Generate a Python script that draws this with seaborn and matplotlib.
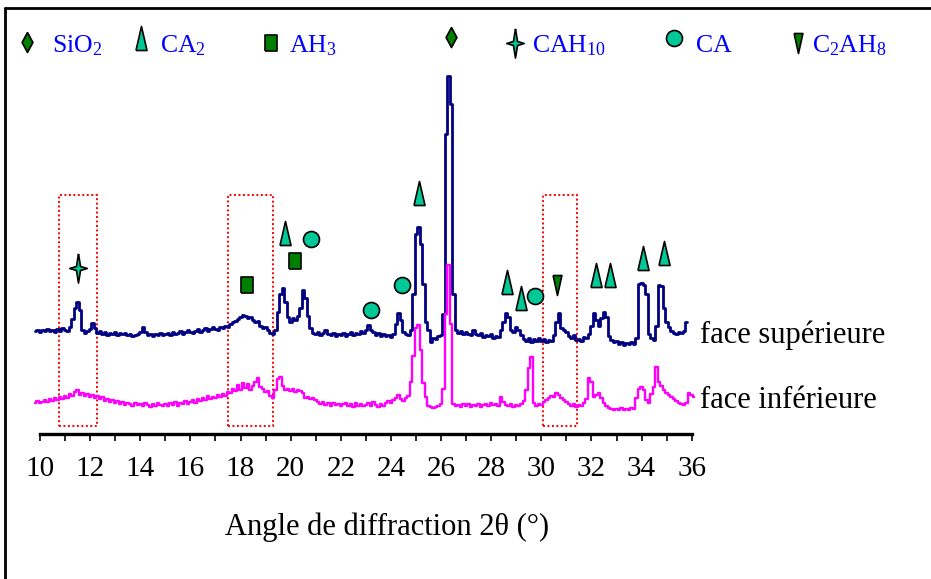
import numpy as np
import pandas as pd
import matplotlib
matplotlib.use('Agg')
import matplotlib.pyplot as plt
import seaborn as sns
from matplotlib.lines import Line2D
from matplotlib.patches import Rectangle

# ---------------- data (intensity in arbitrary units, traces already stacked) ----------
scan_start = 9.8      # first 2theta of the scans
scan_step = 0.1       # 2theta step of the scans

face_sup = [
    103, 104,
    102, 104, 103, 105, 103, 104, 102, 105, 103, 106,
    104, 103, 107, 115, 126, 132, 124, 104, 101, 103,
    105, 111, 106, 101, 103, 100, 102, 99, 101, 100,
    102, 99, 101, 100, 101, 99, 100, 98, 99, 100,
    102, 107, 102, 99, 100, 98, 100, 99, 101, 99,
    100, 101, 99, 102, 100, 101, 103, 100, 102, 104,
    102, 101, 103, 105, 102, 104, 106, 103, 105, 107,
    105, 104, 107, 106, 108, 107, 110, 112, 113, 115,
    117, 119, 118, 116, 117, 114, 112, 113, 108, 106,
    107, 104, 101, 100, 104, 122, 140, 146, 132, 117,
    112, 116, 114, 118, 126, 144, 136, 118, 106, 101,
    100, 102, 99, 101, 104, 100, 99, 101, 98, 100,
    99, 101, 98, 100, 102, 99, 101, 100, 103, 101,
    104, 109, 104, 102, 99, 101, 98, 100, 98, 99,
    97, 100, 110, 121, 114, 102, 100, 99, 104, 140,
    200, 207, 190, 150, 112, 104, 92, 96, 95, 98,
    99, 120, 300, 358, 330, 140, 104, 101, 103, 100,
    102, 100, 99, 104, 100, 99, 101, 97, 99, 98,
    100, 96, 98, 97, 104, 112, 121, 117, 104, 102,
    107, 104, 99, 95, 93, 96, 92, 95, 93, 96,
    93, 95, 92, 94, 93, 99, 112, 121, 106, 104,
    102, 98, 96, 99, 94, 95, 93, 97, 96, 100,
    108, 121, 114, 108, 116, 122, 117, 98, 94, 92,
    93, 90, 92, 89, 91, 90, 92, 90, 96, 150,
    151, 149, 140, 100, 96, 94, 108, 149, 148, 126,
    112, 107, 103, 101, 100, 102, 101, 103, 112,
]

face_inf = [
    31, 33,
    31, 32, 34, 32, 35, 33, 36, 34, 37, 35,
    38, 36, 40, 38, 42, 44, 39, 41, 38, 40,
    37, 39, 36, 38, 35, 37, 33, 35, 32, 34,
    31, 33, 30, 32, 29, 31, 30, 28, 31, 29,
    30, 28, 31, 29, 27, 30, 28, 31, 29, 28,
    30, 28, 31, 29, 32, 28, 31, 30, 33, 30,
    32, 34, 31, 35, 33, 36, 34, 38, 35, 37,
    36, 39, 37, 40, 38, 42, 41, 45, 43, 49,
    44, 51, 46, 50, 44, 48, 52, 56, 47, 45,
    42, 43, 38, 36, 44, 55, 57, 48, 44, 45,
    43, 45, 42, 44, 43, 41, 36, 37, 35, 36,
    34, 32, 30, 32, 29, 31, 28, 31, 29, 30,
    28, 30, 31, 28, 30, 27, 31, 28, 30, 28,
    29, 31, 28, 32, 29, 27, 30, 28, 31, 33,
    31, 34, 36, 39, 35, 33, 36, 38, 52, 78,
    106, 109, 84, 51, 37, 28, 27, 26, 27, 28,
    30, 45, 120, 169, 110, 30, 28, 29, 27, 30,
    28, 30, 27, 29, 28, 30, 27, 29, 30, 28,
    31, 29, 30, 28, 37, 32, 29, 28, 30, 27,
    29, 28, 30, 33, 44, 66, 77, 31, 28, 30,
    29, 32, 34, 36, 38, 37, 41, 39, 36, 34,
    32, 30, 28, 30, 27, 29, 28, 31, 35, 56,
    52, 37, 39, 41, 36, 31, 28, 26, 25, 24,
    25, 24, 26, 24, 25, 24, 26, 25, 36, 45,
    47, 44, 34, 31, 40, 47, 67, 52, 48, 44,
    41, 39, 37, 35, 33, 31, 30, 29, 31, 41,
    39, 37,
]

# phase identifications (2theta, height of the symbol)
ca2_x = [19.77, 25.13, 28.65, 29.17, 32.17, 32.74, 34.05, 34.88]
ca2_y = [201, 241, 152, 136, 159, 159, 176, 181]
ca_x = [20.80, 23.20, 24.43, 29.76]
ca_y = [195, 124, 149, 138]
ah3_x = [18.26, 20.17]
ah3_y = [149, 173]
cah10_x = [11.52]
cah10_y = [166]
c2ah8_x = [30.63]
c2ah8_y = [149]
sio2_x = [26.38]
sio2_y = [397]

# highlighted 2theta ranges (dotted boxes)
box_ranges = [(10.77, 12.26), (17.50, 19.28), (30.05, 31.41)]
box_height = (8, 239)

xticks_major = list(range(10, 37, 2))
xticks_minor = list(range(10, 37, 1))

# ---------------- build data frames ----------------
def scan_frame(vals, name):
    tt = np.round(scan_start + scan_step * np.arange(len(vals)), 2)
    return pd.DataFrame({'two_theta': tt, 'intensity': vals, 'face': name})

df_sup = scan_frame(face_sup, 'face supérieure')
df_inf = scan_frame(face_inf, 'face inférieure')

# ---------------- style ----------------
sns.set_theme(style='white')
plt.rcParams['font.family'] = ['Liberation Serif', 'DejaVu Serif']
plt.rcParams['mathtext.fontset'] = 'custom'
plt.rcParams['mathtext.rm'] = 'Liberation Serif'

NAVY = '#000080'
MAGENTA = '#FF00FF'
TEAL = '#00C896'
GREEN = '#008000'
BLUE = '#0000FF'

# custom marker shapes
m_tri = [(-0.23, -0.5), (0.23, -0.5), (0.0, 0.5), (-0.23, -0.5)]
m_itri = [(-0.22, 0.5), (0.22, 0.5), (0.0, -0.5), (-0.22, 0.5)]
m_rect = [(-0.38, -0.5), (0.38, -0.5), (0.38, 0.5), (-0.38, 0.5), (-0.38, -0.5)]
m_diam = [(0, 0.5), (0.27, 0), (0, -0.5), (-0.27, 0), (0, 0.5)]
m_star = [(0, 0.5), (0.07, 0.07), (0.3, 0), (0.07, -0.07), (0, -0.5),
          (-0.07, -0.07), (-0.3, 0), (-0.07, 0.07), (0, 0.5)]

styles = {
    'ca2': dict(marker=m_tri, ms=17.3, mfc=TEAL),
    'ca': dict(marker='o', ms=11.5, mfc=TEAL),
    'ah3': dict(marker=m_rect, ms=12.2, mfc=GREEN),
    'cah10': dict(marker=m_star, ms=21, mfc=TEAL),
    'c2ah8': dict(marker=m_itri, ms=14.4, mfc=GREEN),
    'sio2': dict(marker=m_diam, ms=14.4, mfc=GREEN),
}

W, H = 931, 579
fig = plt.figure(figsize=(W / 100, H / 100), dpi=100)
ax = fig.add_axes([40 / W, 1 - 434 / H, 651.7 / W, 434 / H])
ax.set_xlim(10, 36)
ax.set_ylim(0, 434)
ax.patch.set_alpha(0)

sns.lineplot(data=df_sup, x='two_theta', y='intensity', color=NAVY, linewidth=2.0,
             estimator=None, drawstyle='steps-mid', ax=ax, legend=False)
sns.lineplot(data=df_inf, x='two_theta', y='intensity', color=MAGENTA, linewidth=1.7,
             estimator=None, drawstyle='steps-mid', ax=ax, legend=False)
for ln in ax.lines:
    ln.set_clip_on(False)

# dotted boxes
for x0, x1 in box_ranges:
    ax.add_patch(Rectangle((x0, box_height[0]), x1 - x0, box_height[1] - box_height[0],
                           fill=False, edgecolor='#FF0000', linewidth=1.4,
                           linestyle=(0, (1, 1.3)), clip_on=False, zorder=1))

# phase markers
for key, xs, ys in [('ca2', ca2_x, ca2_y), ('ca', ca_x, ca_y), ('ah3', ah3_x, ah3_y),
                    ('cah10', cah10_x, cah10_y), ('c2ah8', c2ah8_x, c2ah8_y),
                    ('sio2', sio2_x, sio2_y)]:
    ax.plot(xs, ys, linestyle='none', mec='black', mew=1.2, clip_on=False,
            zorder=5, **styles[key])

# axis styling
for s in ['left', 'right', 'top']:
    ax.spines[s].set_visible(False)
ax.spines['bottom'].set_color('black')
ax.spines['bottom'].set_linewidth(2.4)
ax.set_yticks([])
ax.set_ylabel('')
ax.set_xticks(xticks_major)
ax.set_xticks(xticks_minor, minor=True)
ax.set_xticklabels([str(t) for t in xticks_major])
ax.tick_params(axis='x', which='both', bottom=True, direction='out', length=5.2,
               width=1.2, color='black')
ax.tick_params(axis='x', which='major', labelsize=21, pad=11, labelcolor='black')
ax.set_xlabel('Angle de diffraction 2θ (°)', fontsize=22, color='black', va='top')
ax.xaxis.set_label_coords(0.532, -0.182)

# right-hand labels
ax.text(36.33, 91.3, 'face supérieure', fontsize=22, color='black',
        ha='left', va='baseline', clip_on=False)
ax.text(36.33, 26.3, 'face inférieure', fontsize=22, color='black',
        ha='left', va='baseline', clip_on=False)

# key row at the top (figure pixel layout)
key_items = [
    ('sio2', 26.8, 41.7, 'SiO$\\mathregular{_2}$', 52),
    ('ca2', 140.5, 38.0, 'CA$\\mathregular{_2}$', 159.5),
    ('ah3', 270.8, 43.3, 'AH$\\mathregular{_3}$', 288.7),
    ('cah10', 514.9, 43.3, 'CAH$\\mathregular{_{10}}$', 531.5),
    ('ca', 674.4, 38.3, 'CA', 696),
    ('c2ah8', 797.6, 43.3, 'C$\\mathregular{_2}$AH$\\mathregular{_8}$', 812.5),
]
for key, mx, my, label, tx in key_items:
    fig.add_artist(Line2D([mx / W], [1 - my / H], transform=fig.transFigure,
                          linestyle='none', mec='black', mew=1.2, **styles[key]))
    fig.text(tx / W, 1 - 52 / H, label, fontsize=18.5, color=BLUE,
             ha='left', va='baseline')

# outer frame (left and top edges)
fig.add_artist(Line2D([5 / W, 5 / W], [0, 1 - 8 / H], transform=fig.transFigure,
                      color='black', linewidth=2))
fig.add_artist(Line2D([5 / W, 1], [1 - 8 / H, 1 - 8 / H], transform=fig.transFigure,
                      color='black', linewidth=2))

fig.savefig('out.png', dpi=100, facecolor='white')
